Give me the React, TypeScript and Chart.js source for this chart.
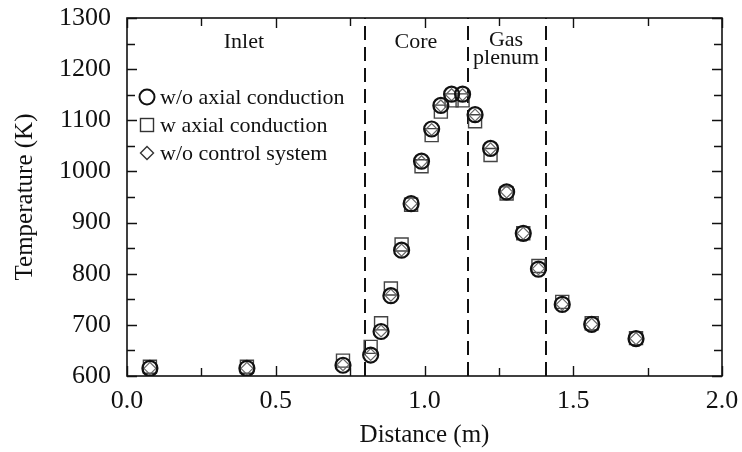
import React, { useEffect, useRef } from 'react';
import { Chart, registerables } from 'chart.js';

Chart.register(...registerables);

// ---- data ----
const distance = [0.077, 0.403, 0.726, 0.819, 0.854, 0.887, 0.923, 0.955, 0.99, 1.024, 1.055, 1.091, 1.128, 1.17, 1.222, 1.276, 1.332, 1.383, 1.463, 1.562, 1.711];
const tempNoAxial = [615, 615, 621, 641, 687, 757, 846, 937, 1020, 1083, 1129, 1151, 1151, 1111, 1045, 960, 879, 809, 740, 701, 673];
const tempAxial = [618, 618, 630, 657, 703, 771, 857, 935, 1010, 1071, 1117, 1139, 1139, 1098, 1032, 957, 879, 815, 745, 703, 674];
const tempNoControl = [615, 615, 622, 642, 688, 758, 846, 937, 1019, 1082, 1128, 1150, 1150, 1110, 1044, 960, 879, 810, 740, 701, 673];

const seriesNames = ['w/o axial conduction', 'w axial conduction', 'w/o control system'];
const regionBounds = [0.8, 1.146, 1.41];
const regionLabels = ['Inlet', 'Core', 'Gas', 'plenum'];
const regionLabelX = [0.393, 0.971, 1.274, 1.274];
const regionLabelY = [1252, 1252, 1257, 1222];

const X_MIN = 0, X_MAX = 2, X_STEP = 0.5, X_MINOR = 0.25;
const Y_MIN = 600, Y_MAX = 1300, Y_STEP = 100, Y_MINOR = 50;

const FONT = "'Liberation Serif', 'DejaVu Serif', serif";

const framePlugin = {
  id: 'frameTicks',
  afterDraw(chart: any) {
    const { ctx, chartArea: a, scales } = chart;
    const xs = scales.x, ys = scales.y;
    ctx.save();
    ctx.strokeStyle = '#111';
    ctx.lineWidth = 1.6;
    ctx.strokeRect(a.left, a.top, a.right - a.left, a.bottom - a.top);
    ctx.lineWidth = 1.4;
    ctx.beginPath();
    for (let i = 0; X_MIN + i * X_MINOR <= X_MAX + 1e-9; i++) {
      const v = X_MIN + i * X_MINOR;
      const px = Math.round(xs.getPixelForValue(v)) + 0.5;
      const len = Math.abs(v / X_STEP - Math.round(v / X_STEP)) < 1e-6 ? 10 : 8;
      ctx.moveTo(px, a.bottom); ctx.lineTo(px, a.bottom - len);
      ctx.moveTo(px, a.top); ctx.lineTo(px, a.top + len);
    }
    for (let i = 0; Y_MIN + i * Y_MINOR <= Y_MAX + 1e-9; i++) {
      const v = Y_MIN + i * Y_MINOR;
      const py = Math.round(ys.getPixelForValue(v)) + 0.5;
      const len = v % Y_STEP === 0 ? 10 : 8;
      ctx.moveTo(a.left, py); ctx.lineTo(a.left + len, py);
      ctx.moveTo(a.right, py); ctx.lineTo(a.right - len, py);
    }
    ctx.stroke();
    ctx.restore();
  },
};

const regionPlugin = {
  id: 'regions',
  beforeDatasetsDraw(chart: any) {
    const { ctx, chartArea: a, scales } = chart;
    const xs = scales.x, ys = scales.y;
    ctx.save();
    ctx.strokeStyle = '#111';
    ctx.lineWidth = 2;
    ctx.setLineDash([14, 7]);
    regionBounds.forEach((b) => {
      const px = Math.round(xs.getPixelForValue(b));
      ctx.beginPath();
      ctx.moveTo(px, a.bottom);
      ctx.lineTo(px, a.top);
      ctx.stroke();
    });
    ctx.setLineDash([]);
    ctx.fillStyle = '#111';
    ctx.font = `22px ${FONT}`;
    ctx.textAlign = 'center';
    ctx.textBaseline = 'middle';
    regionLabels.forEach((t, i) => {
      ctx.fillText(t, xs.getPixelForValue(regionLabelX[i]), ys.getPixelForValue(regionLabelY[i]));
    });
    ctx.restore();
  },
};

const legendPlugin = {
  id: 'customLegend',
  afterDatasetsDraw(chart: any) {
    const { ctx, chartArea: a } = chart;
    const mx = a.left + 20;
    const tx = a.left + 33;
    const rows = [97, 125, 153];
    ctx.save();
    ctx.fillStyle = '#111';
    ctx.font = `22px ${FONT}`;
    ctx.textAlign = 'left';
    ctx.textBaseline = 'middle';
    ctx.strokeStyle = '#111';
    ctx.lineWidth = 2;
    ctx.beginPath();
    ctx.arc(mx, rows[0], 7.5, 0, Math.PI * 2);
    ctx.stroke();
    ctx.strokeStyle = '#333';
    ctx.lineWidth = 1.4;
    ctx.strokeRect(mx - 6.5, rows[1] - 6.5, 13, 13);
    ctx.beginPath();
    ctx.moveTo(mx, rows[2] - 6.5);
    ctx.lineTo(mx + 6.5, rows[2]);
    ctx.lineTo(mx, rows[2] + 6.5);
    ctx.lineTo(mx - 6.5, rows[2]);
    ctx.closePath();
    ctx.stroke();
    seriesNames.forEach((n, i) => ctx.fillText(n, tx, rows[i] + 1));
    ctx.restore();
  },
};

export default function App() {
  const ref = useRef<HTMLCanvasElement | null>(null);
  useEffect(() => {
    if (!ref.current) return;
    const toPts = (ys: number[]) => ys.map((y, i) => ({ x: distance[i], y }));
    const chart = new Chart(ref.current, {
      type: 'scatter',
      data: {
        datasets: [
          {
            label: seriesNames[1],
            data: toPts(tempAxial),
            pointStyle: 'rect',
            pointRadius: 9.2,
            borderColor: '#444',
            backgroundColor: 'rgba(0,0,0,0)',
            borderWidth: 1.4,
            order: 3,
          },
          {
            label: seriesNames[2],
            data: toPts(tempNoControl),
            pointStyle: 'rectRot',
            pointRadius: 6,
            borderColor: '#666',
            backgroundColor: 'rgba(0,0,0,0)',
            borderWidth: 1.2,
            order: 2,
          },
          {
            label: seriesNames[0],
            data: toPts(tempNoAxial),
            pointStyle: 'circle',
            pointRadius: 7.5,
            borderColor: '#111',
            backgroundColor: 'rgba(0,0,0,0)',
            borderWidth: 2.2,
            order: 1,
          },
        ],
      },
      options: {
        animation: false,
        responsive: false,
        events: [],
        layout: { padding: { left: 0, right: 20, top: 18, bottom: 0 } },
        plugins: { legend: { display: false }, tooltip: { enabled: false } },
        scales: {
          x: {
            type: 'linear',
            min: X_MIN,
            max: X_MAX,
            afterFit: (s: any) => { s.height = 76; s.paddingLeft = 0; s.paddingRight = 0; },
            afterBuildTicks: (s: any) => {
              const t = [];
              for (let v = X_MIN; v <= X_MAX + 1e-9; v += X_STEP) t.push({ value: v });
              s.ticks = t;
            },
            grid: { display: false, drawTicks: false },
            border: { display: false },
            ticks: {
              color: '#111',
              padding: 10,
              font: { family: FONT, size: 26 },
              callback: (v: any) => Number(v).toFixed(1),
              maxRotation: 0,
            },
            title: {
              display: true,
              text: 'Distance (m)',
              color: '#111',
              font: { family: FONT, size: 25 },
              padding: { top: 0, bottom: 2 },
            },
          },
          y: {
            type: 'linear',
            min: Y_MIN,
            max: Y_MAX,
            afterFit: (s: any) => { s.width = 127; s.paddingTop = 0; s.paddingBottom = 0; },
            afterBuildTicks: (s: any) => {
              const t = [];
              for (let v = Y_MIN; v <= Y_MAX + 1e-9; v += Y_STEP) t.push({ value: v });
              s.ticks = t;
            },
            grid: { display: false, drawTicks: false },
            border: { display: false },
            ticks: {
              color: '#111',
              padding: 16,
              font: { family: FONT, size: 26 },
              callback: (v: any) => String(v),
            },
            title: {
              display: true,
              text: 'Temperature (K)',
              color: '#111',
              font: { family: FONT, size: 25 },
              padding: { top: 10, bottom: 0 },
            },
          },
        },
      },
      plugins: [regionPlugin, legendPlugin, framePlugin],
    });
    return () => chart.destroy();
  }, []);
  return (
    <div style={{ position: 'absolute', left: 0, top: 0, width: 742, height: 452, background: '#fff' }}>
      <canvas ref={ref} width={742} height={452} style={{ display: 'block' }} />
    </div>
  );
}
